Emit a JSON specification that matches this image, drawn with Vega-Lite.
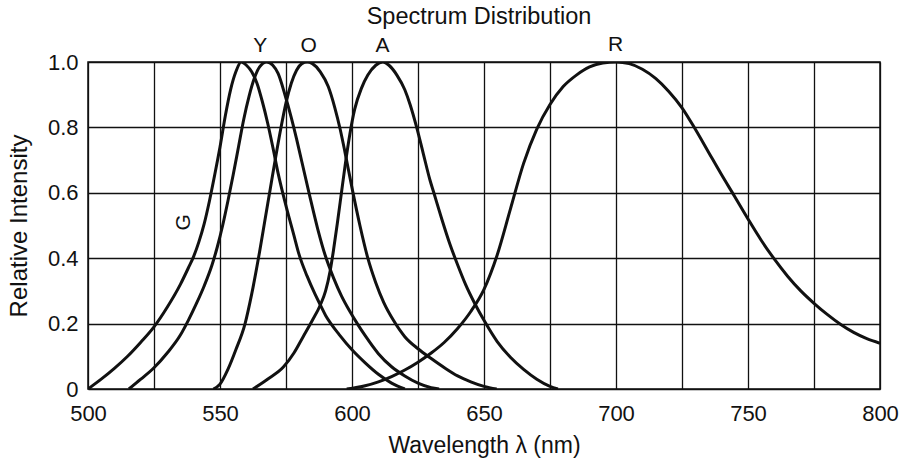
{
  "$schema": "https://vega.github.io/schema/vega-lite/v6.json",
  "width": 792,
  "height": 327,
  "autosize": {"type": "none"},
  "padding": {"left": 88, "top": 62, "right": 26, "bottom": 76},
  "background": "white",
  "config": {
    "view": {"stroke": "#111", "strokeWidth": 1.5},
    "font": "Liberation Sans"
  },
  "title": {
    "text": "Spectrum Distribution",
    "fontSize": 23.5,
    "fontWeight": "normal",
    "color": "#111",
    "frame": "group",
    "offset": 5,
    "dx": -5
  },
  "datasets": {
    "curves": [
      {"curve": "G", "nm": 500, "v": 0}, {"curve": "G", "nm": 505, "v": 0.03}, {"curve": "G", "nm": 510, "v": 0.063}, {"curve": "G", "nm": 515, "v": 0.1}, {"curve": "G", "nm": 520, "v": 0.143}, {"curve": "G", "nm": 525, "v": 0.19}, {"curve": "G", "nm": 530, "v": 0.25}, {"curve": "G", "nm": 535, "v": 0.32}, {"curve": "G", "nm": 538, "v": 0.37}, {"curve": "G", "nm": 540, "v": 0.405}, {"curve": "G", "nm": 542, "v": 0.45}, {"curve": "G", "nm": 544, "v": 0.505}, {"curve": "G", "nm": 546, "v": 0.575}, {"curve": "G", "nm": 548, "v": 0.655}, {"curve": "G", "nm": 550, "v": 0.74}, {"curve": "G", "nm": 552, "v": 0.835}, {"curve": "G", "nm": 554, "v": 0.915}, {"curve": "G", "nm": 556, "v": 0.97}, {"curve": "G", "nm": 558, "v": 1.0}, {"curve": "G", "nm": 560, "v": 0.99}, {"curve": "G", "nm": 562, "v": 0.97}, {"curve": "G", "nm": 564, "v": 0.935}, {"curve": "G", "nm": 566, "v": 0.88}, {"curve": "G", "nm": 568, "v": 0.815}, {"curve": "G", "nm": 570, "v": 0.74}, {"curve": "G", "nm": 572, "v": 0.66}, {"curve": "G", "nm": 575, "v": 0.56}, {"curve": "G", "nm": 578, "v": 0.47}, {"curve": "G", "nm": 580, "v": 0.41}, {"curve": "G", "nm": 583, "v": 0.345}, {"curve": "G", "nm": 586, "v": 0.29}, {"curve": "G", "nm": 588, "v": 0.257}, {"curve": "G", "nm": 590, "v": 0.225}, {"curve": "G", "nm": 592, "v": 0.2}, {"curve": "G", "nm": 595, "v": 0.168}, {"curve": "G", "nm": 600, "v": 0.12}, {"curve": "G", "nm": 605, "v": 0.08}, {"curve": "G", "nm": 610, "v": 0.045}, {"curve": "G", "nm": 615, "v": 0.018}, {"curve": "G", "nm": 620, "v": 0},
      {"curve": "Y", "nm": 515.5, "v": 0}, {"curve": "Y", "nm": 520, "v": 0.03}, {"curve": "Y", "nm": 525, "v": 0.065}, {"curve": "Y", "nm": 530, "v": 0.11}, {"curve": "Y", "nm": 535, "v": 0.165}, {"curve": "Y", "nm": 538, "v": 0.21}, {"curve": "Y", "nm": 541, "v": 0.26}, {"curve": "Y", "nm": 544, "v": 0.315}, {"curve": "Y", "nm": 547, "v": 0.38}, {"curve": "Y", "nm": 549, "v": 0.435}, {"curve": "Y", "nm": 551, "v": 0.5}, {"curve": "Y", "nm": 553, "v": 0.575}, {"curve": "Y", "nm": 555, "v": 0.655}, {"curve": "Y", "nm": 557, "v": 0.74}, {"curve": "Y", "nm": 559, "v": 0.825}, {"curve": "Y", "nm": 561, "v": 0.895}, {"curve": "Y", "nm": 563, "v": 0.95}, {"curve": "Y", "nm": 565, "v": 0.985}, {"curve": "Y", "nm": 567.7, "v": 1.0}, {"curve": "Y", "nm": 570, "v": 0.99}, {"curve": "Y", "nm": 572, "v": 0.965}, {"curve": "Y", "nm": 574.6, "v": 0.9}, {"curve": "Y", "nm": 577, "v": 0.83}, {"curve": "Y", "nm": 579, "v": 0.765}, {"curve": "Y", "nm": 581, "v": 0.695}, {"curve": "Y", "nm": 584, "v": 0.59}, {"curve": "Y", "nm": 587, "v": 0.49}, {"curve": "Y", "nm": 590, "v": 0.405}, {"curve": "Y", "nm": 593, "v": 0.34}, {"curve": "Y", "nm": 596, "v": 0.285}, {"curve": "Y", "nm": 599, "v": 0.24}, {"curve": "Y", "nm": 602, "v": 0.2}, {"curve": "Y", "nm": 605, "v": 0.163}, {"curve": "Y", "nm": 610, "v": 0.108}, {"curve": "Y", "nm": 615, "v": 0.068}, {"curve": "Y", "nm": 620, "v": 0.04}, {"curve": "Y", "nm": 625, "v": 0.018}, {"curve": "Y", "nm": 630, "v": 0.004}, {"curve": "Y", "nm": 633, "v": 0},
      {"curve": "O", "nm": 547.5, "v": 0}, {"curve": "O", "nm": 550, "v": 0.015}, {"curve": "O", "nm": 553, "v": 0.06}, {"curve": "O", "nm": 556, "v": 0.12}, {"curve": "O", "nm": 559.5, "v": 0.2}, {"curve": "O", "nm": 562, "v": 0.29}, {"curve": "O", "nm": 565, "v": 0.42}, {"curve": "O", "nm": 567, "v": 0.515}, {"curve": "O", "nm": 569, "v": 0.61}, {"curve": "O", "nm": 571, "v": 0.705}, {"curve": "O", "nm": 573, "v": 0.795}, {"curve": "O", "nm": 575, "v": 0.875}, {"curve": "O", "nm": 577, "v": 0.935}, {"curve": "O", "nm": 579, "v": 0.975}, {"curve": "O", "nm": 581, "v": 0.995}, {"curve": "O", "nm": 583, "v": 1.0}, {"curve": "O", "nm": 585, "v": 0.995}, {"curve": "O", "nm": 588, "v": 0.97}, {"curve": "O", "nm": 591, "v": 0.925}, {"curve": "O", "nm": 593.5, "v": 0.86}, {"curve": "O", "nm": 595.5, "v": 0.795}, {"curve": "O", "nm": 597.3, "v": 0.726}, {"curve": "O", "nm": 600, "v": 0.615}, {"curve": "O", "nm": 603, "v": 0.5}, {"curve": "O", "nm": 606, "v": 0.4}, {"curve": "O", "nm": 609, "v": 0.325}, {"curve": "O", "nm": 612, "v": 0.265}, {"curve": "O", "nm": 615.7, "v": 0.21}, {"curve": "O", "nm": 620, "v": 0.16}, {"curve": "O", "nm": 625, "v": 0.123}, {"curve": "O", "nm": 630, "v": 0.093}, {"curve": "O", "nm": 635, "v": 0.065}, {"curve": "O", "nm": 640, "v": 0.04}, {"curve": "O", "nm": 645, "v": 0.022}, {"curve": "O", "nm": 650, "v": 0.008}, {"curve": "O", "nm": 654.8, "v": 0},
      {"curve": "A", "nm": 562.5, "v": 0}, {"curve": "A", "nm": 568, "v": 0.03}, {"curve": "A", "nm": 574, "v": 0.067}, {"curve": "A", "nm": 578, "v": 0.11}, {"curve": "A", "nm": 581.5, "v": 0.16}, {"curve": "A", "nm": 585, "v": 0.21}, {"curve": "A", "nm": 588, "v": 0.257}, {"curve": "A", "nm": 590, "v": 0.3}, {"curve": "A", "nm": 591.7, "v": 0.36}, {"curve": "A", "nm": 593, "v": 0.425}, {"curve": "A", "nm": 594.5, "v": 0.51}, {"curve": "A", "nm": 596, "v": 0.6}, {"curve": "A", "nm": 597.5, "v": 0.69}, {"curve": "A", "nm": 599.2, "v": 0.78}, {"curve": "A", "nm": 601, "v": 0.855}, {"curve": "A", "nm": 603.6, "v": 0.92}, {"curve": "A", "nm": 606, "v": 0.96}, {"curve": "A", "nm": 609, "v": 0.99}, {"curve": "A", "nm": 611.7, "v": 1.0}, {"curve": "A", "nm": 614, "v": 0.99}, {"curve": "A", "nm": 617, "v": 0.96}, {"curve": "A", "nm": 620, "v": 0.915}, {"curve": "A", "nm": 622, "v": 0.87}, {"curve": "A", "nm": 624.5, "v": 0.8}, {"curve": "A", "nm": 627, "v": 0.72}, {"curve": "A", "nm": 629.5, "v": 0.64}, {"curve": "A", "nm": 631, "v": 0.6}, {"curve": "A", "nm": 634, "v": 0.52}, {"curve": "A", "nm": 637, "v": 0.445}, {"curve": "A", "nm": 640, "v": 0.38}, {"curve": "A", "nm": 643, "v": 0.32}, {"curve": "A", "nm": 646.6, "v": 0.26}, {"curve": "A", "nm": 650, "v": 0.21}, {"curve": "A", "nm": 655, "v": 0.145}, {"curve": "A", "nm": 660, "v": 0.097}, {"curve": "A", "nm": 665, "v": 0.06}, {"curve": "A", "nm": 670, "v": 0.03}, {"curve": "A", "nm": 675, "v": 0.008}, {"curve": "A", "nm": 678, "v": 0},
      {"curve": "R", "nm": 598, "v": 0}, {"curve": "R", "nm": 605, "v": 0.01}, {"curve": "R", "nm": 610, "v": 0.022}, {"curve": "R", "nm": 615, "v": 0.038}, {"curve": "R", "nm": 620, "v": 0.058}, {"curve": "R", "nm": 625, "v": 0.082}, {"curve": "R", "nm": 630, "v": 0.11}, {"curve": "R", "nm": 635, "v": 0.143}, {"curve": "R", "nm": 640, "v": 0.185}, {"curve": "R", "nm": 645, "v": 0.237}, {"curve": "R", "nm": 650, "v": 0.305}, {"curve": "R", "nm": 655, "v": 0.41}, {"curve": "R", "nm": 660, "v": 0.55}, {"curve": "R", "nm": 665, "v": 0.69}, {"curve": "R", "nm": 670, "v": 0.795}, {"curve": "R", "nm": 675, "v": 0.87}, {"curve": "R", "nm": 680, "v": 0.925}, {"curve": "R", "nm": 685, "v": 0.96}, {"curve": "R", "nm": 690, "v": 0.985}, {"curve": "R", "nm": 695, "v": 0.997}, {"curve": "R", "nm": 700, "v": 1.0}, {"curve": "R", "nm": 705, "v": 0.995}, {"curve": "R", "nm": 710, "v": 0.978}, {"curve": "R", "nm": 715, "v": 0.95}, {"curve": "R", "nm": 720, "v": 0.91}, {"curve": "R", "nm": 725, "v": 0.86}, {"curve": "R", "nm": 730, "v": 0.795}, {"curve": "R", "nm": 735, "v": 0.725}, {"curve": "R", "nm": 740, "v": 0.655}, {"curve": "R", "nm": 745, "v": 0.588}, {"curve": "R", "nm": 750, "v": 0.52}, {"curve": "R", "nm": 755, "v": 0.455}, {"curve": "R", "nm": 760, "v": 0.397}, {"curve": "R", "nm": 765, "v": 0.345}, {"curve": "R", "nm": 770, "v": 0.3}, {"curve": "R", "nm": 775, "v": 0.262}, {"curve": "R", "nm": 780, "v": 0.228}, {"curve": "R", "nm": 785, "v": 0.198}, {"curve": "R", "nm": 790, "v": 0.173}, {"curve": "R", "nm": 795, "v": 0.154}, {"curve": "R", "nm": 800, "v": 0.14}
    ],
    "toplabels": [
      {"label": "Y", "nm": 565.2, "v": 1.049},
      {"label": "O", "nm": 583.6, "v": 1.049},
      {"label": "A", "nm": 611.6, "v": 1.049},
      {"label": "R", "nm": 699.8, "v": 1.052}
    ],
    "glabel": [
      {"label": "G", "nm": 536.2, "v": 0.51}
    ]
  },
  "encoding": {
    "x": {
      "field": "nm",
      "type": "quantitative",
      "scale": {"domain": [500, 800], "nice": false, "zero": false},
      "axis": {
        "values": [500, 525, 550, 575, 600, 625, 650, 675, 700, 725, 750, 775, 800],
        "labelExpr": "datum.value % 50 === 0 ? datum.label : ''",
        "grid": true,
        "gridColor": "#111",
        "gridWidth": 1.3,
        "gridOpacity": 1,
        "ticks": false,
        "domain": false,
        "labelFontSize": 22,
        "labelColor": "#111",
        "labelPadding": 14,
        "labelOverlap": false,
        "labelFlush": false,
        "title": "Wavelength λ (nm)",
        "titleFontSize": 23,
        "titleFontWeight": "normal",
        "titleColor": "#111",
        "titlePadding": 10
      }
    },
    "y": {
      "field": "v",
      "type": "quantitative",
      "scale": {"domain": [0, 1], "nice": false, "zero": true},
      "axis": {
        "values": [0, 0.2, 0.4, 0.6, 0.8, 1.0],
        "labelExpr": "datum.value === 0 ? '0' : format(datum.value, '.1f')",
        "grid": true,
        "gridColor": "#111",
        "gridWidth": 1.3,
        "gridOpacity": 1,
        "ticks": false,
        "domain": false,
        "labelFontSize": 22,
        "labelColor": "#111",
        "labelPadding": 10,
        "labelOverlap": false,
        "title": "Relative Intensity",
        "titleFontSize": 24,
        "titleFontWeight": "normal",
        "titleColor": "#111",
        "titlePadding": 16
      }
    }
  },
  "layer": [
    {
      "data": {"name": "curves"},
      "mark": {"type": "line", "color": "#111", "strokeWidth": 3, "interpolate": "monotone", "clip": true},
      "encoding": {"detail": {"field": "curve", "type": "nominal"}}
    },
    {
      "data": {"name": "toplabels"},
      "mark": {"type": "text", "fontSize": 21, "color": "#111", "align": "center", "baseline": "middle"},
      "encoding": {"text": {"field": "label", "type": "nominal"}}
    },
    {
      "data": {"name": "glabel"},
      "mark": {"type": "text", "fontSize": 21, "color": "#111", "align": "center", "baseline": "middle", "angle": 270},
      "encoding": {"text": {"field": "label", "type": "nominal"}}
    }
  ]
}
